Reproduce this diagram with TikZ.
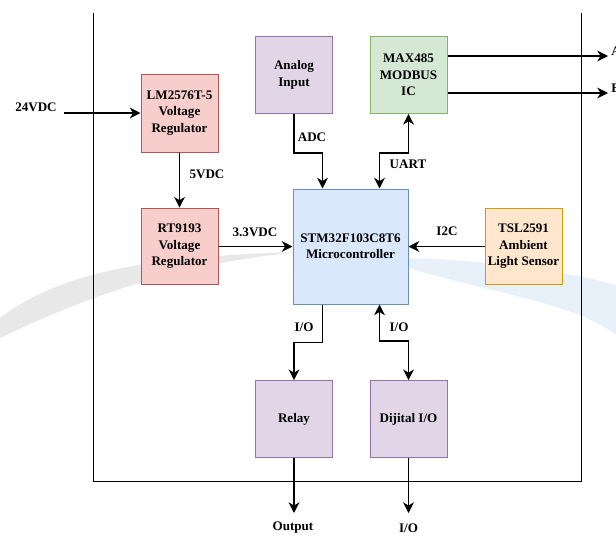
\documentclass[tikz,border=0pt]{standalone}
\usepackage{fontspec}
\setmainfont{Liberation Serif}
\usetikzlibrary{arrows.meta,calc}

\definecolor{redfill}{HTML}{F8CECC}\definecolor{redline}{HTML}{B85450}
\definecolor{violfill}{HTML}{E1D5E7}\definecolor{violline}{HTML}{9673A6}
\definecolor{grnfill}{HTML}{D5E8D4}\definecolor{grnline}{HTML}{82B366}
\definecolor{bluefill}{HTML}{DAE8FC}\definecolor{blueline}{HTML}{6C8EBF}
\definecolor{orgfill}{HTML}{FFE6CC}\definecolor{orgline}{HTML}{D79B00}
\definecolor{swgray}{HTML}{E8E8E8}\definecolor{swblue}{HTML}{E8F1F9}

\tikzset{
  blk/.style={draw, line width=0.75pt, align=center, inner sep=1pt,
    minimum width=57.75pt, minimum height=57.5pt,
    font=\bfseries\fontsize{9.8}{12.3}\selectfont},
  redbox/.style={blk, fill=redfill, draw=redline},
  violbox/.style={blk, fill=violfill, draw=violline},
  grnbox/.style={blk, fill=grnfill, draw=grnline},
  bluebox/.style={blk, fill=bluefill, draw=blueline},
  orgbox/.style={blk, fill=orgfill, draw=orgline},
  lbl/.style={inner sep=0, font=\bfseries\fontsize{9.8}{12}\selectfont},
  arr/.style={line width=1.25pt, -{Stealth[length=8pt,width=8pt,inset=2.4pt]}},
  darr/.style={line width=1.25pt, {Stealth[length=8pt,width=8pt,inset=2.4pt]}-{Stealth[length=8pt,width=8pt,inset=2.4pt]}}
}

\begin{document}
\begin{tikzpicture}[x=0.75pt,y=-0.75pt]
\useasboundingbox (0,0) rectangle (616,536);
\fill[white] (0,0) rectangle (616,536);
% faint swooshes in the background
\fill[swgray] (0,318) .. controls (60,272) and (150,256) .. (300,252)
  .. controls (190,262) and (95,292) .. (0,338) -- cycle;
\fill[swblue] (390,258) .. controls (480,258) and (570,272) .. (616,285)
  -- (616,335) .. controls (570,300) and (480,292) .. (390,262) -- cycle;
% board outline
\draw[line width=0.75pt] (93,13) |- (581,481) -- (581,13);

% blocks
\node[redbox, minimum height=58.5pt] (lm) at (179.5,113) {LM2576T-5\\Voltage\\Regulator};
\node[redbox] (rt) at (179.5,246.5) {RT9193\\Voltage\\Regulator};
\node[violbox] (ana) at (294,75) {Analog\\Input};
\node[grnbox] (max) at (408.5,75) {MAX485\\MODBUS\\IC};
\node[bluebox, minimum width=86.25pt, minimum height=86.25pt] (stm) at (350.5,246.5) {STM32F103C8T6\\Microcontroller};
\node[orgbox] (tsl) at (523.5,246.5) {TSL2591\\Ambient\\Light Sensor};
\node[violbox] (rel) at (294,419) {Relay};
\node[violbox] (dio) at (408.5,419) {Dijital I/O};

% free ends
\coordinate (in24) at (64,113);
\coordinate (outA) at (608,56);
\coordinate (outB) at (608,93);
\coordinate (outRel) at (294,513);
\coordinate (outDio) at (408.5,513);

% connectors
\draw[arr] (in24) -- (lm.west);
\draw[arr] (lm) -- (rt);
\draw[arr] (rt) -- (stm);
\draw[arr] (tsl) -- (stm);
\draw[arr] (ana.south) -- ++(0,39) -| ($(stm.north)+(-28,0)$);
\draw[darr] ($(stm.north)+(29,0)$) |- ($(max.south)+(0,39)$) -- (max.south);
\draw[arr] ($(max.east)+(0,-19)$) -- (outA);
\draw[arr] ($(max.east)+(0,18)$) -- (outB);
\draw[arr] ($(stm.south)+(-28,0)$) -- ++(0,38) -| (rel.north);
\draw[darr] ($(stm.south)+(29,0)$) |- ($(dio.north)+(0,-39)$) -- (dio.north);
\draw[arr] (rel.south) -- (outRel);
\draw[arr] (dio.south) -- (outDio);

% labels
\node[lbl] (l24) at (36,107) {24VDC};
\node[lbl] (l5) at (207,174) {5VDC};
\node[lbl] (l33) at (255,232) {3.3VDC};
\node[lbl] (ladc) at (312,137) {ADC};
\node[lbl] (luart) at (408,164) {UART};
\node[lbl] (li2c) at (447,231) {I2C};
\node[lbl] (lio1) at (304,327) {I/O};
\node[lbl] (lio2) at (399,327) {I/O};
\node[lbl] (lout) at (293,528) {Output};
\node[lbl] (lio3) at (408.5,528) {I/O};
\node[lbl, anchor=west] (la) at (611,51) {A};
\node[lbl, anchor=west] (lb) at (611,88) {B};
\end{tikzpicture}
\end{document}
